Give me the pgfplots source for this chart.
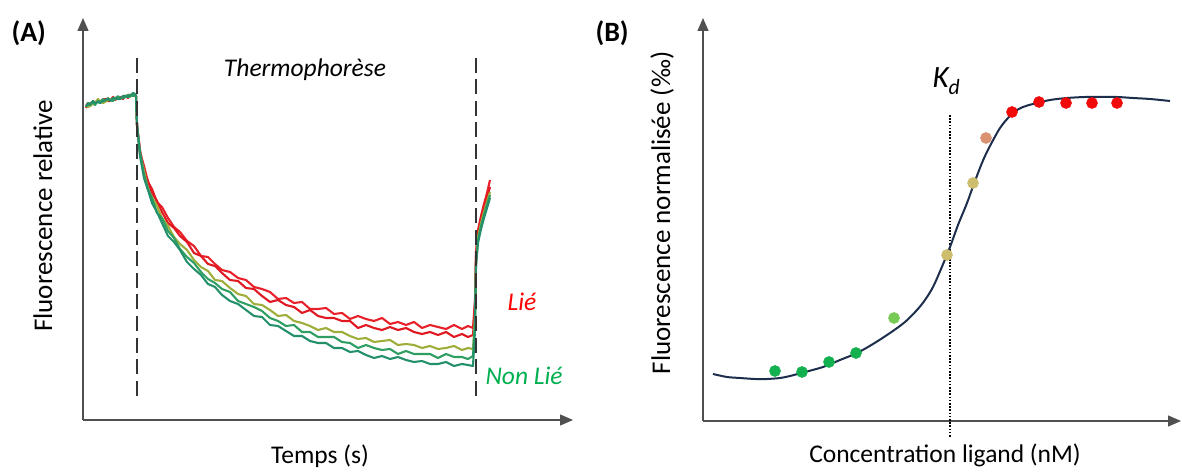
\documentclass[border=0pt]{standalone}
\usepackage{pgfplots}
\pgfplotsset{compat=1.18}
\usepackage{pgfplotstable}
\usepackage{fontspec}
\setmainfont{Carlito}
\usetikzlibrary{arrows.meta}

\definecolor{axisgray}{HTML}{505050}
\definecolor{redA}{HTML}{E8202A}
\definecolor{redB}{HTML}{E01822}
\definecolor{oliveA}{HTML}{9FAE3A}
\definecolor{greenA}{HTML}{2E9E62}
\definecolor{greenB}{HTML}{23906A}
\definecolor{txtred}{HTML}{FF0000}
\definecolor{txtgreen}{HTML}{00B050}
\definecolor{navy}{HTML}{1C2E4C}
\definecolor{ptgreen}{HTML}{12B04E}
\definecolor{ptlgreen}{HTML}{78CC55}
\definecolor{ptkhaki}{HTML}{CDBE6E}
\definecolor{ptsalmon}{HTML}{DA9272}
\definecolor{ptred}{HTML}{F00A0A}

% Panel A traces: x and y in picture pixels (y measured from the top)
\pgfplotstableread{
x r1 r2 o g1 g2
86 106 108 105 107 106
88 103 104 107 103 104
90 104 105 106 104 105
93 101 103 104 102 101
95 104 102 103 105 103
98 100 101 99 101 102
100 102 103 101 102 103
103 99 100 103 99 101
105 101 99 102 101 100
108 98 101 100 98 99
110 100 101 99 100 101
113 99 97 100 101 98
115 98 100 99 99 98
118 97 98 97 96 99
120 99 97 98 98 99
123 96 99 97 98 96
125 96 97 96 97 96
128 98 95 96 95 97
130 96 95 97 95 96
133 95 96 94 96 93
135 94 95 94 95 94
136 96 96 96 96 96
137 125 125 125 125 125
140 152 150 154 152 156
144 166 172 171 175 178
148 182 181 189 189 190
152 189 193 197 198 203
157 202 201 206 213 212
162 207 212 218 218 223
168 218 223 226 231 236
174 227 228 237 238 242
180 232 236 244 249 250
187 241 242 250 257 262
194 246 253 260 263 269
201 256 256 267 272 275
208 257 264 271 279 284
215 264 266 280 283 287
222 270 273 281 289 295
230 272 280 288 292 301
238 278 281 294 301 304
246 280 288 296 304 310
254 287 289 304 307 316
262 289 296 305 311 317
270 292 302 310 318 325
278 299 300 316 321 326
286 298 305 315 326 331
294 303 307 321 325 336
302 302 313 323 332 336
310 309 310 326 332 341
318 309 316 330 337 343
326 308 318 328 337 343
334 314 318 332 337 348
342 313 321 332 342 348
350 319 321 336 343 352
358 316 328 339 348 351
366 319 325 338 345 355
374 321 328 342 348 358
382 318 330 341 350 356
390 324 327 340 349 359
398 322 330 345 354 357
406 325 328 344 351 360
414 322 332 345 354 362
422 328 334 348 354 361
430 325 332 346 354 364
438 327 335 349 358 364
446 329 332 348 354 362
454 325 337 346 357 366
462 329 334 350 357 364
468 326 337 348 359 365
473 328 335 349 356 366
475 300 305 315 322 330
476 252 256 260 263 266
478 230 233 237 240 243
481 216 219 223 226 229
484 204 208 212 215 218
487 193 198 202 205 208
490 180 187 192 195 198
}\tracesA

% Panel B fitted curve: x and y in picture pixels (y measured from the top)
\pgfplotstableread{
x y
713 374
727 377
740 378
755 379
767 379
780 378
790 376
805 372
823 367
840 360
857 353
873 344
890 333
905 322
917 310
925 300
933 287
941 269
950 247
958 225
967 203
975 181
985 156
1000 128
1013 113
1023 107
1033 104
1050 100
1067 98
1085 97
1100 97
1117 97
1133 98
1150 99
1170 101
}\fitB

\tikzset{bigfont/.style={font=\fontsize{25.5}{30}\selectfont}}

\begin{document}
\begin{tikzpicture}[x=1pt,y=1pt]
\useasboundingbox (0,0) rectangle (1182,471);

\node[anchor=base west, font=\bfseries\fontsize{28}{30}\selectfont] at (8,429) {(A)};
\node[anchor=base west, font=\bfseries\fontsize{28}{30}\selectfont] at (592,429) {(B)};

% ---------------- Panel A ----------------
\begin{axis}[
  at={(83pt,51pt)}, anchor=south west, scale only axis,
  width=490pt, height=402pt,
  xmin=83, xmax=573, ymin=51, ymax=453,
  axis x line=bottom, axis y line=left, ticks=none, clip=false,
  axis line style={line width=1.3pt, color=axisgray},
  every outer x axis line/.append style={-{Triangle[length=13pt,width=11pt]}},
  every outer y axis line/.append style={-{Triangle[length=13pt,width=11pt]}},
]
\addplot[redA, line width=2.1pt, line join=round] table[x=x, y expr=471-\thisrow{r1}] {\tracesA};
\addplot[redB, line width=2.1pt, line join=round] table[x=x, y expr=471-\thisrow{r2}] {\tracesA};
\addplot[oliveA, line width=2.1pt, line join=round] table[x=x, y expr=471-\thisrow{o}] {\tracesA};
\addplot[greenA, line width=2.1pt, line join=round] table[x=x, y expr=471-\thisrow{g1}] {\tracesA};
\addplot[greenB, line width=2.1pt, line join=round] table[x=x, y expr=471-\thisrow{g2}] {\tracesA};
\addplot[black!80, line width=2pt, dash pattern=on 15pt off 6.5pt] coordinates {(137,413) (137,71)};
\addplot[black!80, line width=2pt, dash pattern=on 15pt off 6.5pt] coordinates {(476,413) (476,71)};
\node[anchor=base, bigfont] at (axis cs:305,394) {\itshape Thermophorèse};
\node[anchor=base west, bigfont, text=txtred] at (axis cs:504,161) {\itshape Lié};
\node[anchor=base west, bigfont, text=txtgreen] at (axis cs:482,87) {\itshape Non Lié};
\node[anchor=base, bigfont] at (axis cs:320,8) {Temps (s)};
\node[anchor=base, rotate=90, font=\fontsize{27}{30}\selectfont] at (axis cs:52,255) {Fluorescence relative};
\end{axis}

% ---------------- Panel B ----------------
\begin{axis}[
  at={(703pt,50pt)}, anchor=south west, scale only axis,
  width=478pt, height=403pt,
  xmin=703, xmax=1181, ymin=50, ymax=453,
  axis x line=bottom, axis y line=left, ticks=none, clip=false,
  axis line style={line width=1.3pt, color=axisgray},
  every outer x axis line/.append style={-{Triangle[length=13pt,width=11pt]}},
  every outer y axis line/.append style={-{Triangle[length=13pt,width=11pt]}},
]
\addplot[black, line width=1.4pt, dash pattern=on 1.6pt off 1.6pt] coordinates {(950,356) (950,33)};
\addplot[navy, line width=2pt, smooth] table[x=x, y expr=471-\thisrow{y}] {\fitB};
\addplot[only marks, mark=*, mark size=5.6pt, color=ptgreen, mark options={draw=none, fill=ptgreen}] coordinates {(775,100) (802,99) (829,109) (856,118)};
\addplot[only marks, mark=*, mark size=5.6pt, color=ptlgreen, mark options={draw=none, fill=ptlgreen}] coordinates {(894,153)};
\addplot[only marks, mark=*, mark size=5.6pt, color=ptkhaki, mark options={draw=none, fill=ptkhaki}] coordinates {(947,216) (973,288)};
\addplot[only marks, mark=*, mark size=5.6pt, color=ptsalmon, mark options={draw=none, fill=ptsalmon}] coordinates {(986,333)};
\addplot[only marks, mark=*, mark size=5.6pt, color=ptred, mark options={draw=none, fill=ptred}] coordinates {(1012,359) (1039,369) (1066,368) (1092,368) (1117,368)};
\node[anchor=base west, font=\fontsize{31}{34}\selectfont] at (axis cs:929,383) {\itshape K\textsubscript{d}};
\node[anchor=base, bigfont] at (axis cs:945,9) {Concentration ligand (nM)};
\node[anchor=base, rotate=90, font=\fontsize{27}{30}\selectfont] at (axis cs:670,258) {Fluorescence normalisée (‰)};
\end{axis}
\end{tikzpicture}
\end{document}
